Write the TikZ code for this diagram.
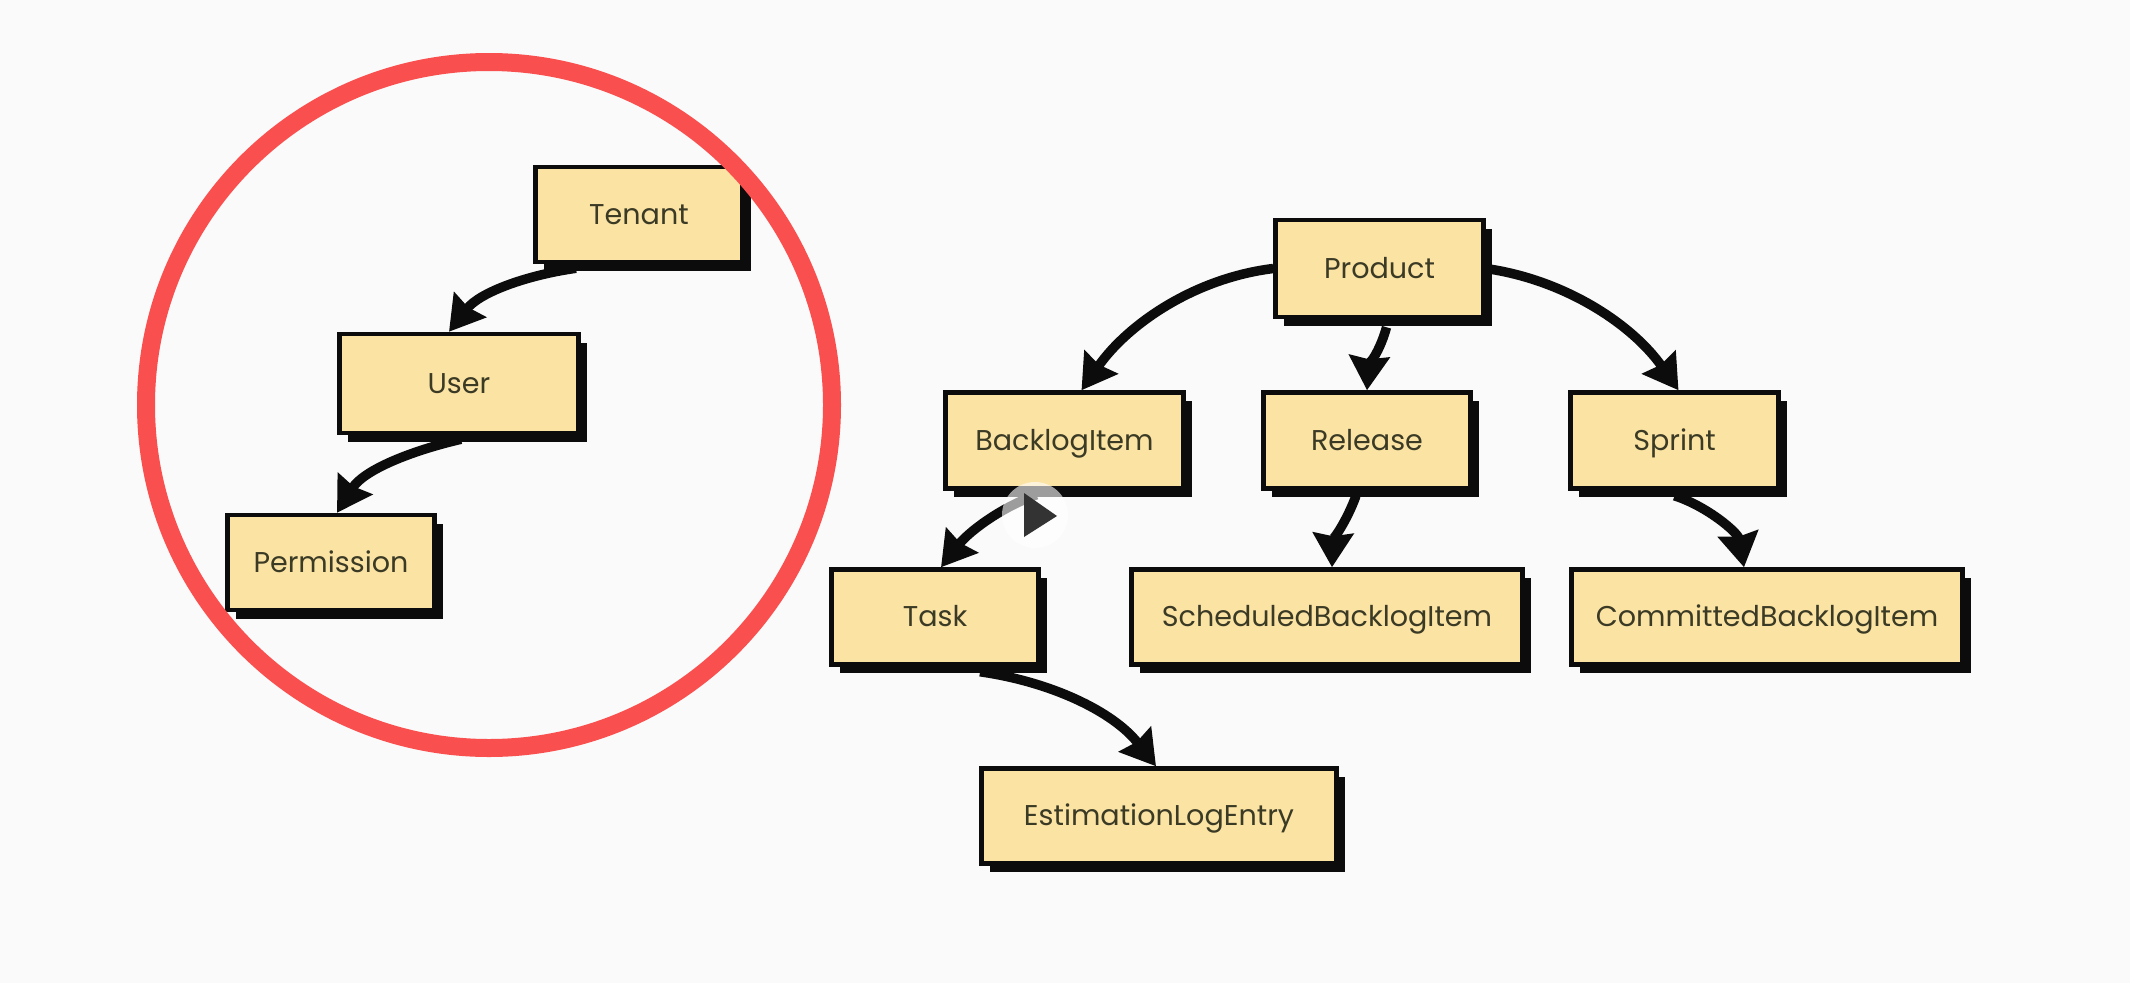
\documentclass[tikz,border=0pt]{standalone}
\usepackage{fontspec}
\setmainfont{Poppins}
\usetikzlibrary{arrows.meta,shadows}
\definecolor{pagebg}{HTML}{FAFAFA}
\definecolor{boxfill}{HTML}{FBE3A4}
\definecolor{ringred}{HTML}{F9504F}
\definecolor{inkblack}{HTML}{0C0C0C}
\definecolor{textink}{HTML}{3A3A25}
\tikzset{
  card/.style={draw=inkblack,line width=4.5pt,fill=boxfill,inner sep=0pt,text=textink,
    font=\fontsize{28.6}{32}\selectfont,text height=25pt,text depth=6pt,
    general shadow={shadow xshift=8.5pt,shadow yshift=-8.5pt,fill=inkblack}},
  link/.style={draw=inkblack,line width=9.5pt,looseness=.9,-{Stealth[length=34pt,width=40pt,inset=3pt]}},
  ring/.style={draw=ringred,line width=18pt},
}
\begin{document}
\begin{tikzpicture}[x=1pt,y=-1pt]
\useasboundingbox (0,0) rectangle (2130,983);
\fill[pagebg] (0,0) rectangle (2130,983);
\node[card,minimum width=207pt,minimum height=95pt] (tenant) at (639,214.5) {Tenant};
\node[card,minimum width=239pt,minimum height=99pt] (user) at (459,383.5) {User};
\node[card,minimum width=207pt,minimum height=95pt] (permission) at (331,562.5) {Permission};
\node[card,minimum width=208pt,minimum height=97pt] (product) at (1379.5,268.5) {Product};
\node[card,minimum width=238pt,minimum height=96pt] (backlog) at (1064.5,440.5) {BacklogItem};
\node[card,minimum width=207pt,minimum height=96pt] (release) at (1367,440.5) {Release};
\node[card,minimum width=208pt,minimum height=96pt] (sprint) at (1674.5,440.5) {Sprint};
\node[card,minimum width=207pt,minimum height=95pt] (task) at (935,617) {Task};
\node[card,minimum width=391pt,minimum height=95pt] (scheduled) at (1327,617) {ScheduledBacklogItem};
\node[card,minimum width=391pt,minimum height=95pt] (committed) at (1767,617) {CommittedBacklogItem};
\node[card,minimum width=355pt,minimum height=95pt] (estimation) at (1159,816) {EstimationLogEntry};
\draw[link] ([xshift=-63pt,yshift=-4pt]tenant.south) to[out=188,in=52] ([xshift=-10pt]user.north);
\draw[link] ([xshift=2pt,yshift=-4pt]user.south) to[out=193,in=58] ([xshift=6pt]permission.north);
\draw[link] (product.west) to[out=187,in=55] ([xshift=17pt]backlog.north);
\draw[link] ([xshift=7pt,yshift=-8pt]product.south) to[out=255,in=86] (release.north);
\draw[link] (product.east) to[out=-8,in=125] ([xshift=4pt]sprint.north);
\draw[link] ([xshift=-28pt,yshift=-4pt]backlog.south) to[out=200,in=52] ([xshift=6pt]task.north);
\draw[link] ([xshift=45pt,yshift=-5pt]task.south) to[out=-8,in=128] ([xshift=-3pt]estimation.north);
\draw[link] ([xshift=-11pt,yshift=-5pt]release.south) to[out=250,in=88] ([xshift=5pt]scheduled.north);
\draw[link] ([yshift=-5pt]sprint.south) to[out=-18,in=100] ([xshift=-23pt]committed.north);
\node[circle,ring,minimum size=686pt,inner sep=0pt] (focus) at (489,405) {};
\node[circle,fill=white,fill opacity=.6,minimum size=66pt,inner sep=0pt] (playdisc) at (1035,515) {};
\fill[fill=black!80] ([xshift=-11pt,yshift=22pt]playdisc.center) -- ([xshift=22pt,yshift=-1pt]playdisc.center) -- ([xshift=-11pt,yshift=-22pt]playdisc.center) -- cycle;
\end{tikzpicture}
\end{document}
